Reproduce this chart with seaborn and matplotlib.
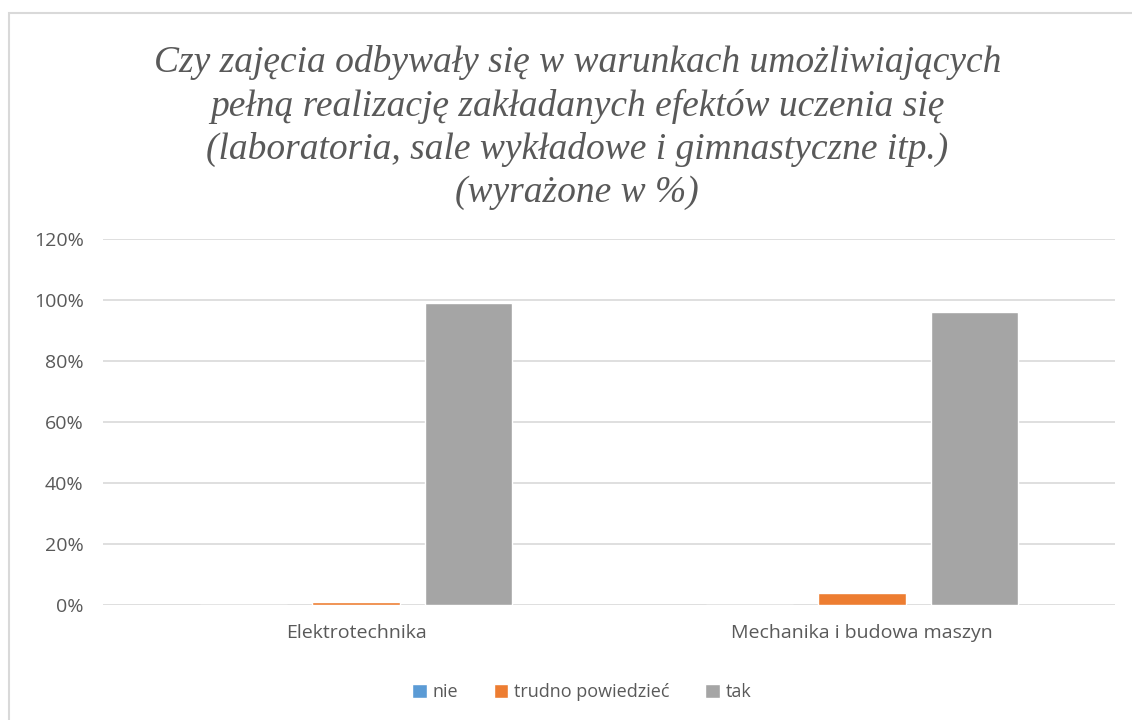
import pandas as pd
import matplotlib.pyplot as plt
import seaborn as sns
from matplotlib.patches import Rectangle
from matplotlib.ticker import PercentFormatter

kierunki = ['Elektrotechnika', 'Mechanika i budowa maszyn']
odpowiedzi = ['nie', 'trudno powiedzieć', 'tak']
nie = [0.0, 0.0]
trudno = [0.01, 0.04]
tak = [0.99, 0.96]

df = pd.DataFrame({
    'kierunek': kierunki * 3,
    'odpowiedz': [o for o in odpowiedzi for _ in kierunki],
    'wartosc': nie + trudno + tak,
})

kolory = {'nie': '#5B9BD5', 'trudno powiedzieć': '#ED7D31', 'tak': '#A5A5A5'}

sns.set_style('white')
plt.rcParams['font.family'] = ['Open Sans', 'DejaVu Sans']

fig = plt.figure(figsize=(11.32, 7.2), dpi=100)
ax = fig.add_axes([0.091, 0.16, 0.894, 0.508])

sns.barplot(data=df, x='kierunek', y='wartosc', hue='odpowiedz', hue_order=odpowiedzi,
            palette=kolory, saturation=1, width=0.666, gap=0.22, ax=ax, legend=True)

ax.set_ylim(0, 1.2)
ax.set_yticks([0, 0.2, 0.4, 0.6, 0.8, 1.0, 1.2])
ax.yaxis.set_major_formatter(PercentFormatter(1.0, decimals=0))
ax.grid(axis='y', color='#d9d9d9', linewidth=1.2)
ax.set_axisbelow(True)
for s in ax.spines.values():
    s.set_visible(False)
ax.tick_params(axis='both', length=0, labelsize=14, colors='#595959', pad=14)
ax.tick_params(axis='x', pad=14)
ax.set_xlabel('')
ax.set_ylabel('')

leg = ax.legend(loc='upper center', bbox_to_anchor=(0.473, -0.17), ncol=3, frameon=False,
                fontsize=13, handlelength=0.8, handleheight=0.8, handletextpad=0.3,
                columnspacing=2.0)
for t in leg.get_texts():
    t.set_color('#595959')

fig.text(0.51, 0.937,
         'Czy zajęcia odbywały się w warunkach umożliwiających\n'
         'pełną realizację zakładanych efektów uczenia się\n'
         '(laboratoria, sale wykładowe i gimnastyczne itp.)\n'
         '(wyrażone w %)',
         ha='center', va='top', fontsize=27, style='italic', color='#595959',
         family=['Liberation Serif', 'DejaVu Serif'], linespacing=1.31)

fig.patches.append(Rectangle((9 / 1132, -0.1), 1.2, 1 - 13 / 720 + 0.1, transform=fig.transFigure,
                             fill=False, edgecolor='#d9d9d9', linewidth=1.5))

fig.savefig('out.png', dpi=100)
